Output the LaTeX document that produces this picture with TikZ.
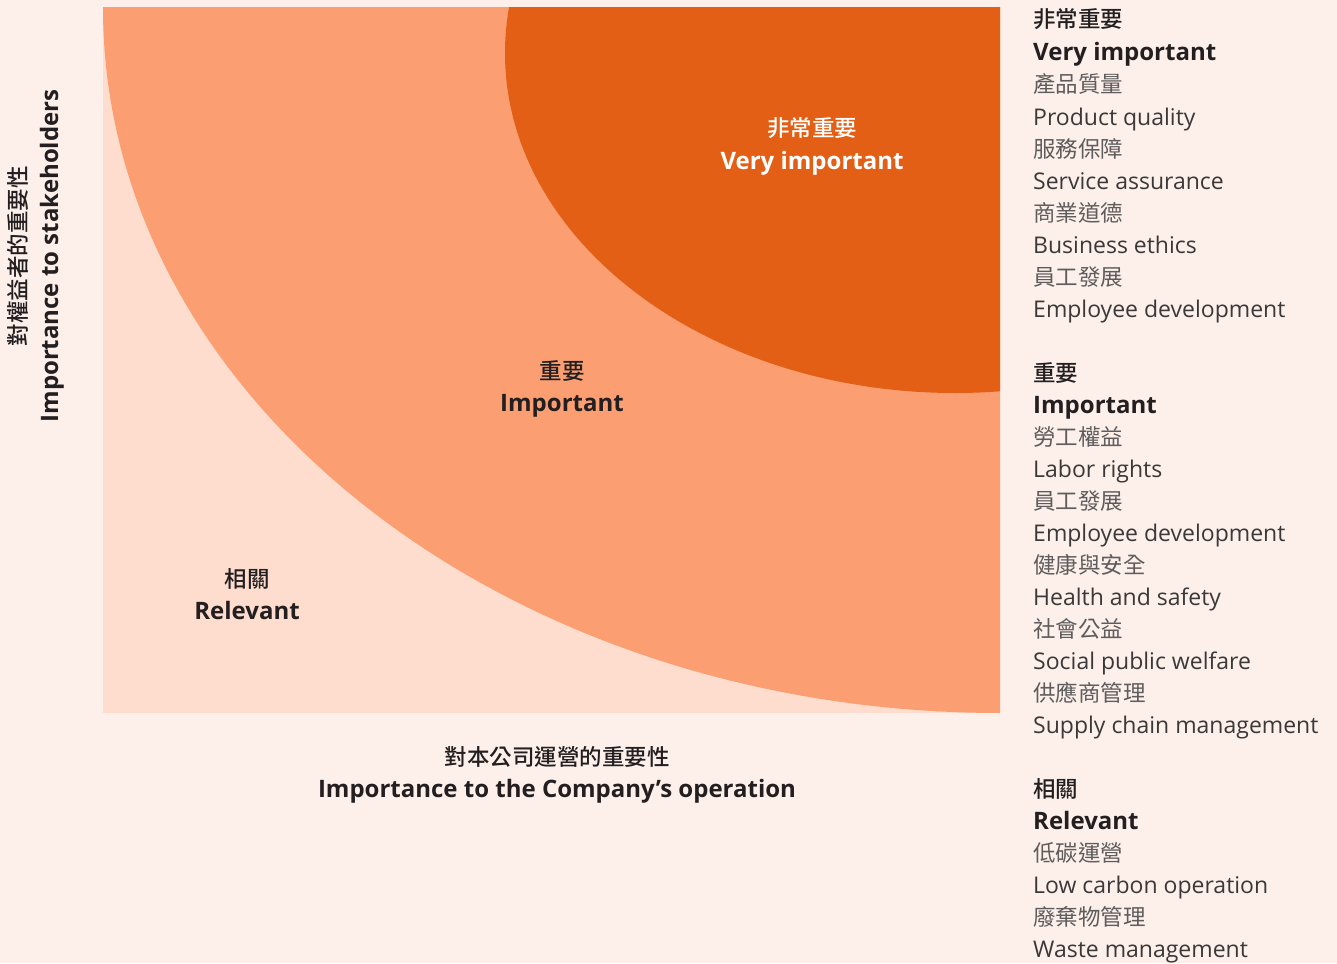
\documentclass[tikz,border=0pt]{standalone}
\usepackage{fontspec}
\setmainfont{Open Sans}
\newfontfamily\zhfont{Noto Sans CJK TC}[BoldFont={Noto Sans CJK TC Medium}]
\usepackage{tikz}

\definecolor{bgpink}{HTML}{FDF0EB}
\definecolor{zonelow}{HTML}{FEDDCE}
\definecolor{zonemid}{HTML}{FB9F72}
\definecolor{zonehigh}{HTML}{E25F15}
\definecolor{inkdark}{HTML}{231F20}
\definecolor{inkzh}{HTML}{5E5C5C}
\definecolor{inken}{HTML}{3A3838}

\begin{document}
\begin{tikzpicture}[x=1pt,y=-1pt]
    \tikzset{
        zhbold/.style={font=\zhfont\bfseries\fontsize{22.5}{27}\selectfont, text=inkdark, inner sep=0pt},
        enbold/.style={font=\bfseries\fontsize{24}{27}\selectfont, text=inkdark, inner sep=0pt},
        itemzh/.style={font=\zhfont\fontsize{22.5}{27}\selectfont, text=inkzh, inner sep=0pt, anchor=base west},
        itemen/.style={font=\fontsize{23}{27}\selectfont, text=inken, inner sep=0pt, anchor=base west}
    }
    % background and zones
    \fill[bgpink] (0,0) rectangle (1337,963);
    \fill[zonelow] (103,8) rectangle (1000,713);
    \begin{scope}
        \clip (103,8) rectangle (1000,713);
        \fill[zonemid] (1000,8) ellipse [x radius=897pt, y radius=705pt];
        \fill[zonehigh] (955,53) ellipse [x radius=450pt, y radius=340pt];
    \end{scope}

    % zone labels
    \node[zhbold, text=white, anchor=base] (vi-zh) at (812,136) {非常重要};
    \node[enbold, text=white, anchor=base] (vi-en) at (812,169) {Very important};
    \node[zhbold, anchor=base] (imp-zh) at (562,379) {重要};
    \node[enbold, anchor=base] (imp-en) at (562,411) {Important};
    \node[zhbold, anchor=base] (rel-zh) at (247,587) {相關};
    \node[enbold, anchor=base] (rel-en) at (247,619) {Relevant};

    % axis labels
    \node[zhbold, anchor=base] (xlab-zh) at (557,765) {對本公司運營的重要性};
    \node[enbold, anchor=base] (xlab-en) at (557,797) {Importance to the Company’s operation};
    \node[zhbold, anchor=base, rotate=90] (ylab-zh) at (26,256) {對權益者的重要性};
    \node[enbold, anchor=base, rotate=90] (ylab-en) at (58,256) {Importance to stakeholders};

    % list: very important
    \node[zhbold, anchor=base west] (vihead-zh) at (1033,28) {非常重要};
    \node[enbold, anchor=base west] (vihead-en) at (1033,61) {Very important};
    \foreach \zh/\en [count=\i] in {產品質量/Product quality, 服務保障/Service assurance,
        商業道德/Business ethics, 員工發展/Employee development}
    {
        \node[itemzh] (vi-item-zh-\i) at (1033,{93+64*(\i-1)}) {\zh};
        \node[itemen] (vi-item-en-\i) at (1033,{125+64*(\i-1)}) {\en};
    }

    % list: important
    \node[zhbold, anchor=base west] (imphead-zh) at (1033,381) {重要};
    \node[enbold, anchor=base west] (imphead-en) at (1033,413) {Important};
    \foreach \zh/\en [count=\i] in {勞工權益/Labor rights, 員工發展/Employee development,
        健康與安全/Health and safety, 社會公益/Social public welfare, 供應商管理/Supply chain management}
    {
        \node[itemzh] (imp-item-zh-\i) at (1033,{445+64*(\i-1)}) {\zh};
        \node[itemen] (imp-item-en-\i) at (1033,{477+64*(\i-1)}) {\en};
    }

    % list: relevant
    \node[zhbold, anchor=base west] (relhead-zh) at (1033,797) {相關};
    \node[enbold, anchor=base west] (relhead-en) at (1033,829) {Relevant};
    \foreach \zh/\en [count=\i] in {低碳運營/Low carbon operation, 廢棄物管理/Waste management}
    {
        \node[itemzh] (rel-item-zh-\i) at (1033,{861+64*(\i-1)}) {\zh};
        \node[itemen] (rel-item-en-\i) at (1033,{893+64*(\i-1)}) {\en};
    }
\end{tikzpicture}
\end{document}
